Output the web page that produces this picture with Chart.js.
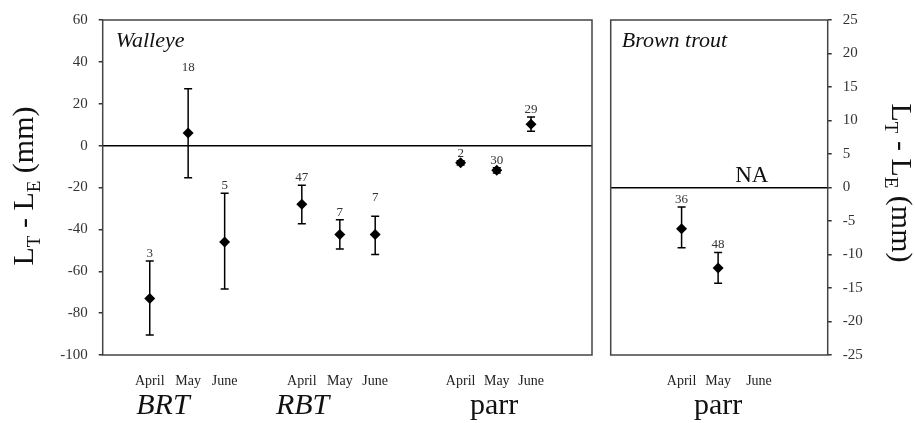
<!DOCTYPE html>
<html>
<head>
<meta charset="utf-8">
<script src="https://cdn.jsdelivr.net/npm/chart.js@4.4.0/dist/chart.umd.min.js"></script>
<style>
    html, body { margin: 0; padding: 0; background: #fff; }
    #wrap { position: relative; width: 915px; height: 423px; }
    .painel { position: absolute; top: 0; height: 423px; }
    #painel-walleye { left: 0; width: 600px; }
    #painel-trout { left: 600px; width: 315px; }
</style>
</head>
<body>
<div id="wrap">
    <div class="painel" id="painel-walleye"><canvas id="grafico-walleye" width="600" height="423"></canvas></div>
    <div class="painel" id="painel-trout"><canvas id="grafico-trout" width="315" height="423"></canvas></div>
</div>
<script>
// Walleye panel data (mean and error bar ends, in mm)
const walleyeMonths = ['April', 'May', 'June', 'April', 'May', 'June', 'April', 'May', 'June'];
const walleyeX = [1.25, 2.27, 3.24, 5.29, 6.30, 7.24, 9.51, 10.47, 11.38];
const walleyeMean = [-73, 6, -46, -28, -42.5, -42.5, -8.2, -11.8, 10.2];
const walleyeLow = [-90.5, -15.3, -68.5, -37.3, -49.4, -52, -9.3, -13.1, 6.9];
const walleyeHigh = [-55.1, 27.2, -22.7, -18.9, -35.4, -33.7, -7.2, -10.6, 13.7];
const walleyeN = [3, 18, 5, 47, 7, 7, 2, 30, 29];
const walleyeGroups = ['BRT', 'RBT', 'parr'];
const walleyeGroupX = [1.6, 5.31, 10.4];
const walleyeTicks = [-100, -80, -60, -40, -20, 0, 20, 40, 60];

// Brown trout panel data
const troutMonths = ['April', 'May', 'June'];
const troutX = [1.96, 2.97, 4.1];
const troutMean = [-6.15, -12.0];
const troutLow = [-9.0, -14.3];
const troutHigh = [-2.9, -9.7];
const troutN = [36, 48];
const troutGroups = ['parr'];
const troutGroupX = [2.97];
const troutTicks = [-25, -20, -15, -10, -5, 0, 5, 10, 15, 20, 25];

// extra lift (px) of some n labels, as in the figure
const walleyeNLift = [0, 14, 0, 0, 0, 11, 0, 0, 0];
const troutNLift = [0, 0];

const serif = '"Liberation Serif", "Times New Roman", serif';

// draws the L_T - L_E (mm) title with subscripts
function desenharTituloEixo(ctx, cx, cy, angulo) {
    const partes = [
        ['L', 30, 0], ['T', 19, 7], [' - ', 30, 0],
        ['L', 30, 0], ['E', 19, 7], [' (mm)', 30, 0]
    ];
    let total = 0;
    partes.forEach(p => {
        ctx.font = p[1] + 'px ' + serif;
        total += ctx.measureText(p[0]).width;
    });
    ctx.save();
    ctx.translate(cx, cy);
    ctx.rotate(angulo);
    ctx.fillStyle = '#111';
    ctx.textBaseline = 'alphabetic';
    ctx.textAlign = 'left';
    let x = -total / 2;
    partes.forEach(p => {
        ctx.font = p[1] + 'px ' + serif;
        ctx.fillText(p[0], x, p[2]);
        x += ctx.measureText(p[0]).width;
    });
    ctx.restore();
}

// error bars + sample size labels
const barrasErro = {
    id: 'barrasErro',
    beforeDatasetsDraw(chart, args, opts) {
        const ctx = chart.ctx;
        const sx = chart.scales.x, sy = chart.scales.y;
        ctx.save();
        ctx.strokeStyle = '#000';
        ctx.lineWidth = 1.5;
        opts.low.forEach((lo, i) => {
            const px = sx.getPixelForValue(opts.xs[i]);
            const topo = sy.getPixelForValue(opts.high[i]);
            const base = sy.getPixelForValue(lo);
            ctx.beginPath();
            ctx.moveTo(px, topo); ctx.lineTo(px, base);
            ctx.moveTo(px - 4, topo); ctx.lineTo(px + 4, topo);
            ctx.moveTo(px - 4, base); ctx.lineTo(px + 4, base);
            ctx.stroke();

            ctx.fillStyle = '#333';
            ctx.font = '13px ' + serif;
            ctx.textAlign = 'center';
            ctx.textBaseline = 'alphabetic';
            ctx.fillText(String(opts.n[i]), px, topo - 4 - opts.lift[i]);
        });
        ctx.restore();
    },
    afterDraw(chart, args, opts) {
        const ctx = chart.ctx;
        const area = chart.chartArea;
        const sx = chart.scales.x, sy = chart.scales.y;
        ctx.save();
        // panel frame
        ctx.strokeStyle = '#444';
        ctx.lineWidth = 1.5;
        ctx.strokeRect(area.left, area.top, area.right - area.left, area.bottom - area.top);

        // panel name
        ctx.fillStyle = '#111';
        ctx.font = 'italic 22px ' + serif;
        ctx.textAlign = 'left';
        ctx.textBaseline = 'alphabetic';
        ctx.fillText(opts.nome, area.left + opts.nomeDx, area.top + 27);

        // months
        ctx.font = '14px ' + serif;
        ctx.fillStyle = '#222';
        ctx.textAlign = 'center';
        opts.meses.forEach((m, i) => {
            ctx.fillText(m, sx.getPixelForValue(opts.mesesX[i]), area.bottom + 30);
        });

        // group labels
        ctx.fillStyle = '#111';
        opts.grupos.forEach((g, i) => {
            ctx.font = (g === 'parr' ? '' : 'italic ') + '30px ' + serif;
            ctx.fillText(g, sx.getPixelForValue(opts.gruposX[i]), area.bottom + 59);
        });

        if (opts.na) {
            ctx.font = '23px ' + serif;
            ctx.fillText('NA', sx.getPixelForValue(opts.na), sy.getPixelForValue(0) - 6);
        }
        ctx.restore();

        desenharTituloEixo(ctx, opts.tituloX, opts.tituloY, opts.tituloAngulo);
    }
};

function criarPainel(canvasId, cfg) {
    const ctx = document.getElementById(canvasId).getContext('2d');
    return new Chart(ctx, {
        type: 'scatter',
        data: {
            datasets: [{
                data: cfg.mean.map((v, i) => ({ x: cfg.xs[i], y: v })),
                pointStyle: 'rectRot',
                pointRadius: 5.5,
                pointHoverRadius: 5.5,
                backgroundColor: '#000',
                borderColor: '#000',
                borderWidth: 0
            }]
        },
        options: {
            responsive: false,
            animation: false,
            layout: { padding: cfg.padding },
            plugins: {
                legend: { display: false },
                tooltip: { enabled: false },
                barrasErro: {
                    xs: cfg.xs, low: cfg.low, high: cfg.high, n: cfg.n, lift: cfg.lift,
                    nome: cfg.nome, nomeDx: cfg.nomeDx,
                    meses: cfg.meses, mesesX: cfg.mesesX,
                    grupos: cfg.grupos, gruposX: cfg.gruposX,
                    na: cfg.na,
                    tituloX: cfg.tituloX, tituloY: cfg.tituloY, tituloAngulo: cfg.tituloAngulo
                }
            },
            scales: {
                x: { type: 'linear', min: 0, max: cfg.xMax, display: false },
                y: {
                    position: cfg.yPos,
                    min: cfg.ticks[0],
                    max: cfg.ticks[cfg.ticks.length - 1],
                    afterBuildTicks: s => { s.ticks = cfg.ticks.map(v => ({ value: v })); },
                    afterFit: s => { s.width = cfg.yWidth; },
                    border: { display: false },
                    grid: {
                        color: c => (c.tick && c.tick.value === 0) ? '#000' : 'rgba(0,0,0,0)',
                        lineWidth: 1.5,
                        drawTicks: true,
                        tickLength: 4,
                        tickColor: '#333',
                        tickWidth: 1.5
                    },
                    ticks: {
                        padding: 11,
                        color: '#333',
                        font: { family: serif, size: 15 }
                    }
                }
            }
        },
        plugins: [barrasErro]
    });
}

var graficoWalleye = criarPainel('grafico-walleye', {
    xs: walleyeX, mean: walleyeMean, low: walleyeLow, high: walleyeHigh, n: walleyeN, lift: walleyeNLift,
    nome: 'Walleye', nomeDx: 13,
    meses: walleyeMonths, mesesX: walleyeX,
    grupos: walleyeGroups, gruposX: walleyeGroupX,
    na: null,
    ticks: walleyeTicks, xMax: 13, yPos: 'left', yWidth: 102.7,
    padding: { left: 0, right: 8, top: 18.3, bottom: 68 },
    tituloX: 33, tituloY: 186, tituloAngulo: -Math.PI / 2
});

var graficoTrout = criarPainel('grafico-trout', {
    xs: troutX, mean: troutMean, low: troutLow, high: troutHigh, n: troutN, lift: troutNLift,
    nome: 'Brown trout', nomeDx: 11,
    meses: troutMonths, mesesX: troutX,
    grupos: troutGroups, gruposX: troutGroupX,
    na: 3.9,
    ticks: troutTicks, xMax: 6, yPos: 'right', yWidth: 87.3,
    padding: { left: 10.7, right: 0, top: 18.3, bottom: 68 },
    tituloX: 292, tituloY: 183, tituloAngulo: Math.PI / 2
});
</script>
</body>
</html>
